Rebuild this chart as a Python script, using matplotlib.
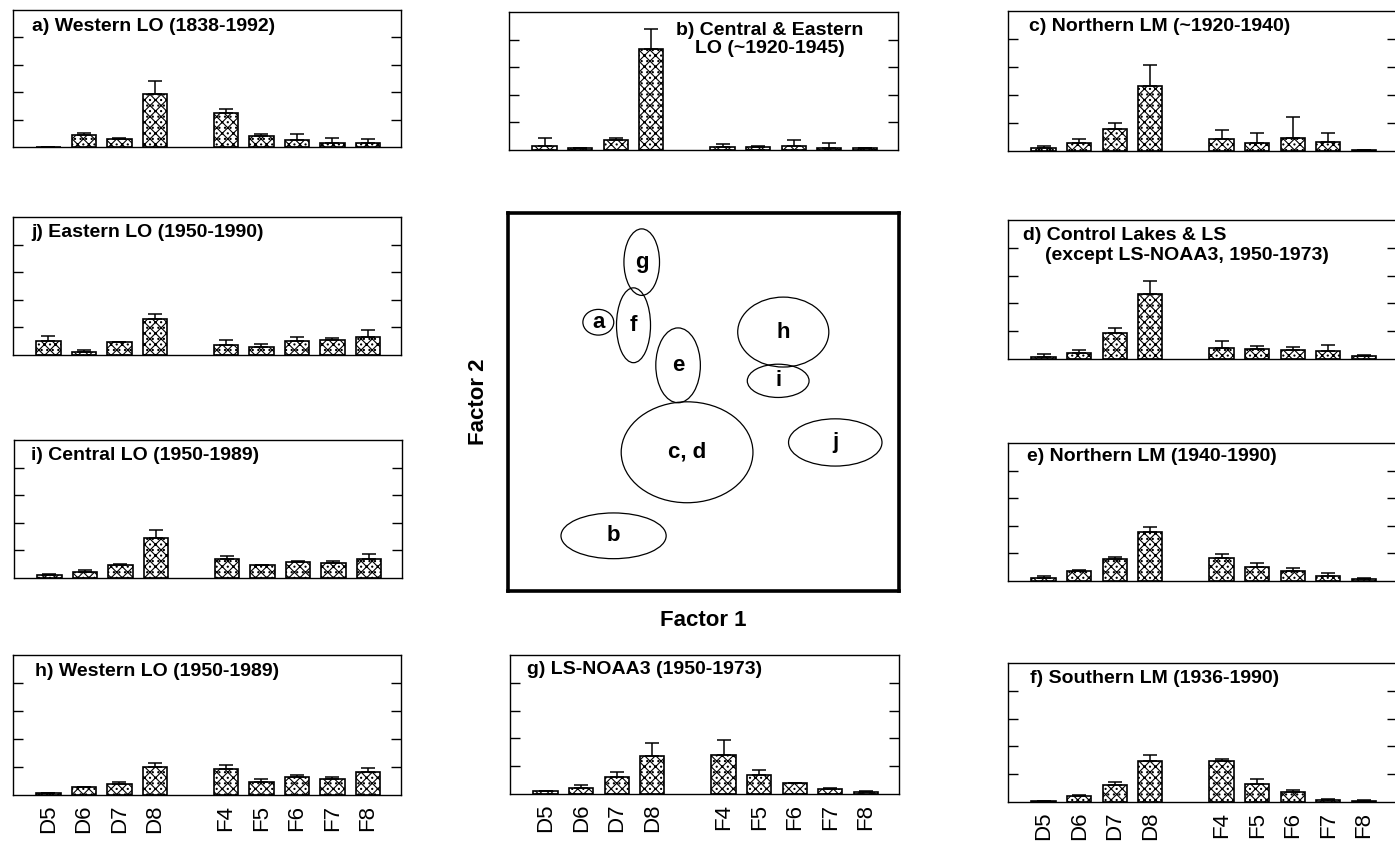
import numpy as np
import matplotlib
matplotlib.use('Agg')
import matplotlib.pyplot as plt
from matplotlib.patches import Ellipse

plt.rcParams['font.family'] = ['Liberation Sans', 'DejaVu Sans']
plt.rcParams['hatch.linewidth'] = 0.8

# categories on the x axis (a gap is left between D8 and F4)
categories = ['D5', 'D6', 'D7', 'D8', 'F4', 'F5', 'F6', 'F7', 'F8']
positions = [0, 1, 2, 3, 5, 6, 7, 8, 9]

# bar heights and upper error bars, one pair per panel
a_vals = [0.00, 0.43, 0.31, 1.92, 1.25, 0.40, 0.24, 0.13, 0.13]
a_err = [0.00, 0.09, 0.02, 0.48, 0.13, 0.08, 0.22, 0.21, 0.15]
b_vals = [0.15, 0.06, 0.38, 3.65, 0.10, 0.12, 0.15, 0.08, 0.06]
b_err = [0.27, 0.02, 0.06, 0.75, 0.10, 0.03, 0.23, 0.18, 0.00]
c_vals = [0.10, 0.30, 0.80, 2.33, 0.44, 0.27, 0.48, 0.33, 0.05]
c_err = [0.08, 0.14, 0.20, 0.74, 0.30, 0.36, 0.72, 0.30, 0.00]
d_vals = [0.07, 0.22, 0.95, 2.34, 0.41, 0.35, 0.34, 0.29, 0.12]
d_err = [0.10, 0.09, 0.15, 0.46, 0.24, 0.12, 0.09, 0.20, 0.02]
e_vals = [0.12, 0.36, 0.79, 1.77, 0.85, 0.52, 0.36, 0.18, 0.07]
e_err = [0.06, 0.05, 0.09, 0.20, 0.12, 0.15, 0.12, 0.12, 0.03]
f_vals = [0.02, 0.20, 0.62, 1.46, 1.46, 0.65, 0.36, 0.08, 0.05]
f_err = [0.00, 0.06, 0.09, 0.24, 0.10, 0.19, 0.07, 0.04, 0.01]
g_vals = [0.11, 0.20, 0.61, 1.38, 1.39, 0.67, 0.38, 0.19, 0.08]
g_err = [0.01, 0.11, 0.18, 0.45, 0.56, 0.21, 0.02, 0.04, 0.02]
h_vals = [0.06, 0.27, 0.40, 1.00, 0.94, 0.46, 0.64, 0.57, 0.82]
h_err = [0.00, 0.03, 0.05, 0.14, 0.14, 0.11, 0.08, 0.07, 0.14]
i_vals = [0.12, 0.20, 0.48, 1.45, 0.69, 0.46, 0.57, 0.55, 0.70]
i_err = [0.04, 0.08, 0.04, 0.28, 0.10, 0.02, 0.03, 0.05, 0.17]
j_vals = [0.50, 0.12, 0.46, 1.30, 0.38, 0.30, 0.50, 0.54, 0.64]
j_err = [0.20, 0.06, 0.02, 0.18, 0.16, 0.10, 0.16, 0.06, 0.26]

# groups in the factor space: label, centre (factor 1, factor 2), width, height
group_labels = ['g', 'f', 'a', 'e', 'h', 'i', 'c, d', 'j', 'b']
group_f1 = [3.42, 3.21, 2.31, 4.35, 7.04, 6.91, 4.58, 8.37, 2.70]
group_f2 = [8.70, 7.03, 7.11, 5.97, 6.85, 5.56, 3.67, 3.93, 1.46]
group_w = [0.91, 0.87, 0.79, 1.14, 2.33, 1.58, 3.37, 2.39, 2.69]
group_h = [1.76, 1.98, 0.68, 1.98, 1.85, 0.88, 2.67, 1.25, 1.21]

W, H = 1395, 842
fig = plt.figure(figsize=(W / 100, H / 100), dpi=100)


def add_ax(left, top, right, bottom):
    # pixel box -> figure fraction
    return fig.add_axes([left / W, 1 - bottom / H, (right - left) / W, (bottom - top) / H])


def bar_panel(box, vals, err, title, tx, ty, xlabels=False, ha='left', title2=None, tx2=None, ty2=None):
    ax = add_ax(*box)
    ax.bar(positions, vals, width=0.68, color='white', edgecolor='black',
           linewidth=1.2, hatch='xxx...', zorder=2)
    ax.errorbar(positions, vals, yerr=[np.zeros(len(err)), err], fmt='none',
                ecolor='black', elinewidth=1.1, capsize=5, capthick=1.1, zorder=3)
    ax.set_xlim(-1, 9.93)
    ax.set_ylim(0, 5)
    ax.set_yticks([1, 2, 3, 4])
    ax.set_yticklabels([])
    ax.tick_params(axis='y', direction='in', length=7, width=1, left=True, right=True)
    if xlabels:
        ax.set_xticks(positions)
        ax.set_xticklabels(categories, rotation=90, fontsize=16)
        ax.tick_params(axis='x', length=0, pad=7)
    else:
        ax.set_xticks([])
    for s in ax.spines.values():
        s.set_linewidth(1.0)
    ax.text(tx, ty, title, transform=ax.transAxes, ha=ha, va='center',
            fontsize=14, fontweight='bold', linespacing=1.1)
    if title2 is not None:
        ax.text(tx2, ty2, title2, transform=ax.transAxes, ha='left', va='center',
                fontsize=14, fontweight='bold')
    return ax


# top row
bar_panel((13, 10, 401, 147), a_vals, a_err, 'a) Western LO (1838-1992)', 0.049, 0.883)
bar_panel((509, 12, 898, 150), b_vals, b_err, 'b) Central & Eastern\nLO (~1920-1945)', 0.671, 0.800, ha='center')
bar_panel((1008, 11, 1397, 151), c_vals, c_err, 'c) Northern LM (~1920-1940)', 0.054, 0.886)

# second row
bar_panel((13, 217, 401, 355), j_vals, j_err, 'j) Eastern LO (1950-1990)', 0.046, 0.891)
bar_panel((1008, 220, 1397, 359), d_vals, d_err, 'd) Control Lakes & LS', 0.039, 0.885,
          title2='(except LS-NOAA3, 1950-1973)', tx2=0.095, ty2=0.748)

# third row
bar_panel((14, 440, 402, 578), i_vals, i_err, 'i) Central LO (1950-1989)', 0.044, 0.891)
bar_panel((1008, 443, 1397, 581), e_vals, e_err, 'e) Northern LM (1940-1990)', 0.049, 0.903)

# bottom row
bar_panel((13, 655, 401, 795), h_vals, h_err, 'h) Western LO (1950-1989)', 0.057, 0.879, xlabels=True)
bar_panel((510, 655, 899, 794), g_vals, g_err, 'g) LS-NOAA3 (1950-1973)', 0.044, 0.896, xlabels=True)
bar_panel((1008, 663, 1397, 802), f_vals, f_err, 'f) Southern LM (1936-1990)', 0.057, 0.888, xlabels=True)

# centre: factor space with the groups
axc = add_ax(508, 213, 899, 591)
axc.set_xlim(0, 10)
axc.set_ylim(0, 10)
axc.set_xticks([])
axc.set_yticks([])
for s in axc.spines.values():
    s.set_linewidth(2.6)
for lab, x, y, w, h in zip(group_labels, group_f1, group_f2, group_w, group_h):
    axc.add_patch(Ellipse((x, y), w, h, facecolor='none', edgecolor='black', linewidth=0.9))
    axc.text(x, y, lab, ha='center', va='center', fontsize=16, fontweight='bold')
axc.set_xlabel('Factor 1', fontsize=16, fontweight='bold', labelpad=14)
axc.set_ylabel('Factor 2', fontsize=16, fontweight='bold', labelpad=14)

fig.savefig('out.png', dpi=100)
